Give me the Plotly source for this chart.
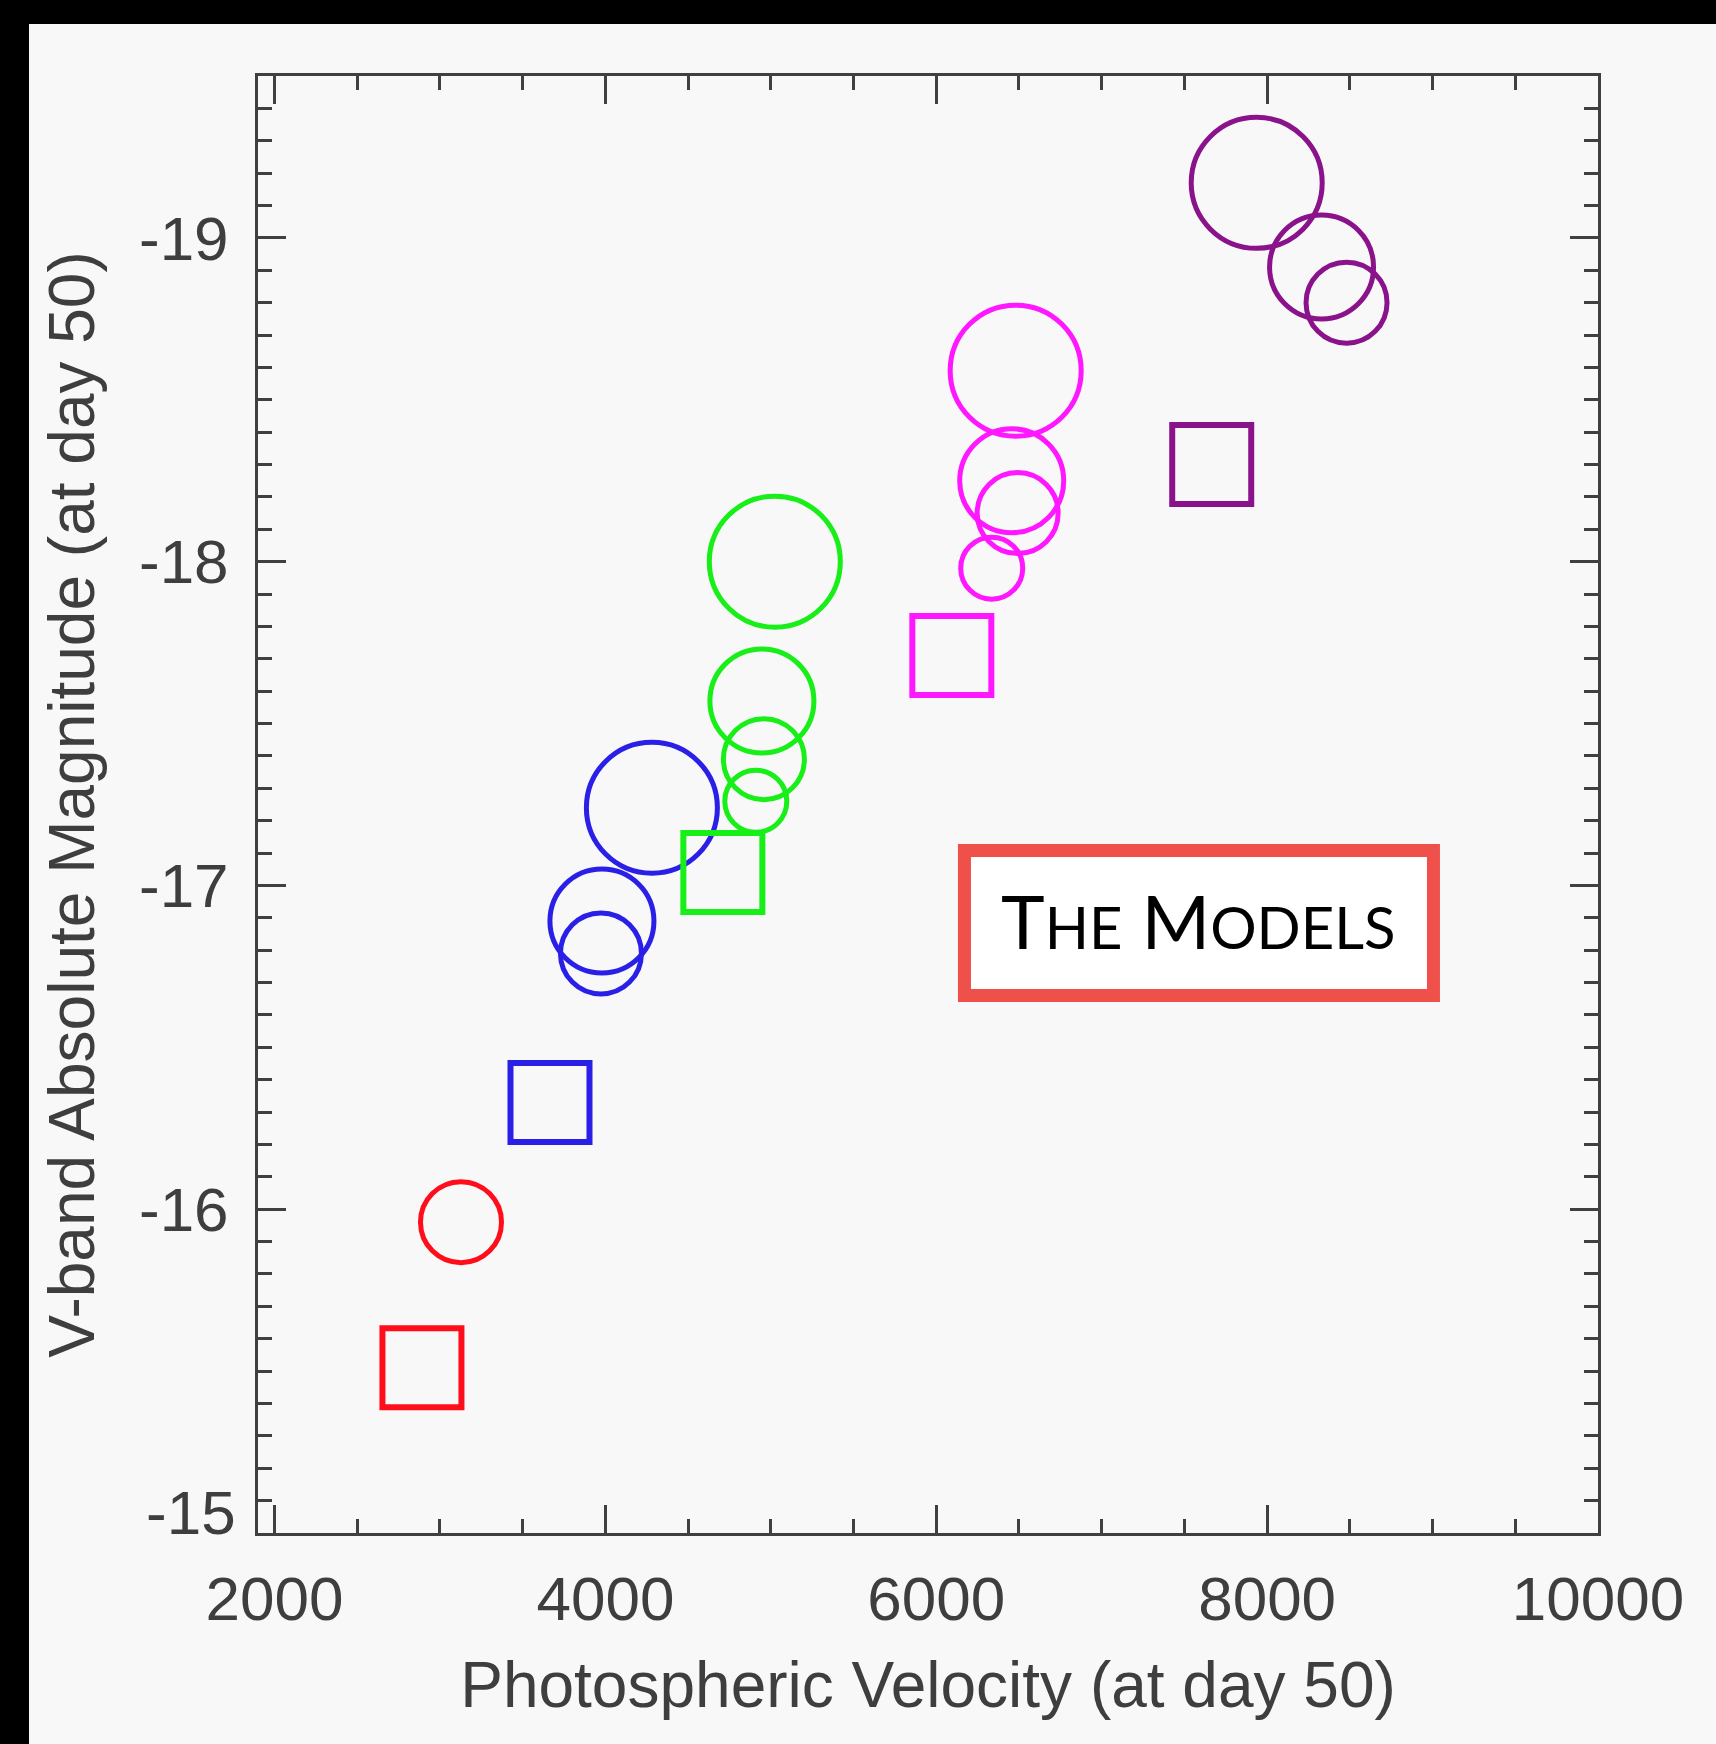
import plotly.graph_objects as go

# Model supernovae: photospheric velocity vs V-band absolute magnitude, both at day 50.
# One colour per model family; squares and open circles of four size classes.
GROUP_COLORS = {
    "red": "#ff0d1a",
    "blue": "#2a1fe6",
    "green": "#18ee18",
    "magenta": "#ff18ff",
    "purple": "#8a128a",
}

square_group = ["red", "blue", "green", "magenta", "purple"]
square_vel = [2891, 3665, 4710, 6094, 7665]
square_mag = [-15.51, -16.33, -17.04, -17.71, -18.30]

circle_group = ["red",
                "blue", "blue", "blue",
                "green", "green", "green", "green",
                "magenta", "magenta", "magenta", "magenta",
                "purple", "purple", "purple"]
circle_vel = [3127,
              3973, 3979, 4281,
              4909, 4958, 4946, 5024,
              6335, 6492, 6456, 6480,
              8480, 8329, 7937]
circle_mag = [-15.96,
              -16.79, -16.89, -17.24,
              -17.26, -17.39, -17.57, -18.00,
              -17.98, -18.15, -18.25, -18.59,
              -18.80, -18.91, -19.17]
circle_class = [2,
                2, 3, 4,
                1, 2, 3, 4,
                1, 2, 3, 4,
                2, 3, 4]

x_ticks = [2000, 4000, 6000, 8000, 10000]
x_tick_labels = ["2000", "4000", "6000", "8000", "10000"]
y_ticks = [-19, -18, -17, -16, -15]
y_tick_labels = ["-19", "-18", "-17", "-16", "-15"]

x_title = "Photospheric Velocity (at day 50)"
y_title = "V-band Absolute Magnitude (at day 50)"

CLASS_PX = {1: 62, 2: 81, 3: 104, 4: 131}
AXIS_COLOR = "#404040"
TEXT_COLOR = "#3e3e3e"
FONT = "Liberation Sans, Arial, Helvetica, sans-serif"

fig = go.Figure()

for g in GROUP_COLORS:
    idx = [i for i, cg in enumerate(circle_group) if cg == g]
    fig.add_trace(go.Scatter(
        x=[circle_vel[i] for i in idx],
        y=[circle_mag[i] for i in idx],
        mode="markers",
        marker=dict(symbol="circle-open",
                    size=[CLASS_PX[circle_class[i]] for i in idx],
                    color=GROUP_COLORS[g],
                    opacity=1,
                    line=dict(width=5)),
        hoverinfo="x+y", showlegend=False,
    ))

fig.add_trace(go.Scatter(
    x=square_vel, y=square_mag, mode="markers",
    marker=dict(symbol="square-open", size=79,
                color=[GROUP_COLORS[g] for g in square_group],
                opacity=1,
                line=dict(width=6)),
    hoverinfo="x+y", showlegend=False,
))

axis_common = dict(
    showline=True, linecolor=AXIS_COLOR, linewidth=3, mirror="allticks",
    ticks="inside", tickcolor=AXIS_COLOR, tickwidth=3, ticklen=28,
    showgrid=False, zeroline=False,
    tickfont=dict(family=FONT, size=62, color=TEXT_COLOR),
)

fig.update_xaxes(
    **axis_common,
    range=[1900, 10000],
    tickvals=x_ticks, ticktext=x_tick_labels,
    ticklabelstandoff=10,
    minor=dict(ticks="inside", ticklen=14, tickwidth=3, tickcolor=AXIS_COLOR,
               dtick=500, tick0=2000, showgrid=False),
    title=dict(text=x_title, font=dict(family=FONT, size=64, color=TEXT_COLOR),
               standoff=30),
)

# the lowest magnitude label sits a little above its tick, drawn separately below
fig.update_yaxes(
    **axis_common,
    range=[-15, -19.5],
    tickvals=y_ticks, ticktext=y_tick_labels[:-1] + [""],
    ticklabelstandoff=14,
    minor=dict(ticks="inside", ticklen=14, tickwidth=3, tickcolor=AXIS_COLOR,
               dtick=0.1, tick0=-15, showgrid=False),
    title=dict(text=y_title, font=dict(family=FONT, size=64, color=TEXT_COLOR),
               standoff=24),
)

annotations = [
    dict(xref="paper", yref="paper", x=-0.0149, y=0.0144,
         xanchor="right", yanchor="middle", showarrow=False,
         text=y_tick_labels[-1],
         font=dict(family=FONT, size=62, color=TEXT_COLOR)),
    dict(xref="paper", yref="paper", x=0.7015, y=0.4207,
         xanchor="center", yanchor="middle", showarrow=False,
         text="T<span style='font-size:58px'>HE</span> M<span style='font-size:58px'>ODELS</span>",
         font=dict(family="Lato, Open Sans, sans-serif", size=74, color="#000000")),
]

shapes = [
    # black frame bands along the top and left edges of the page
    dict(type="rect", xref="paper", yref="paper", x0=-0.25, x1=1.2,
         y0=1.0357, y1=1.10, fillcolor="#000000", line=dict(width=0), layer="above"),
    dict(type="rect", xref="paper", yref="paper", x0=-0.25, x1=-0.1709,
         y0=-0.2, y1=1.10, fillcolor="#000000", line=dict(width=0), layer="above"),
    # caption box
    dict(type="rect", xref="paper", yref="paper", x0=0.5272, x1=0.8772,
         y0=0.3689, y1=0.4684, fillcolor="#ffffff",
         line=dict(color="#ef5049", width=13), layer="above"),
]

fig.update_layout(
    width=1716, height=1744,
    margin=dict(l=258, r=118, t=76, b=211, pad=0),
    paper_bgcolor="#f8f8f8", plot_bgcolor="#f8f8f8",
    shapes=shapes, annotations=annotations,
    showlegend=False,
)

fig.write_html("out.html")
